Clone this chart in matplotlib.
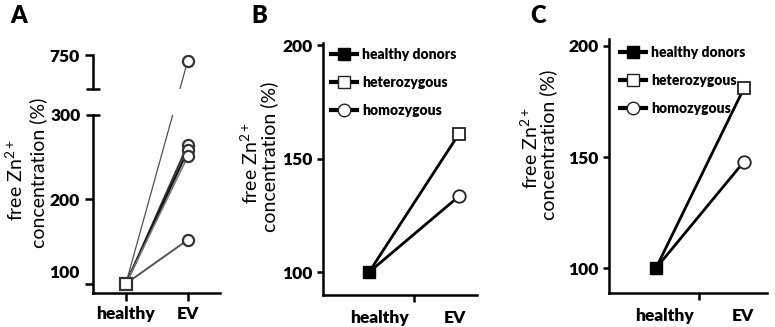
import numpy as np
import matplotlib
matplotlib.use("Agg")
import matplotlib.pyplot as plt
from matplotlib.lines import Line2D
from matplotlib.transforms import ScaledTranslation

plt.rcParams['font.family'] = ['Lato', 'DejaVu Sans']
plt.rcParams['mathtext.default'] = 'regular'

# ======= data =======
groups = ["healthy", "EV"]

# panel A: individual patients, healthy normalised to 100
a_healthy = [100, 100, 100, 100, 100]
a_ev      = [734, 265, 258, 251, 152]
a_colors  = ["#505050", "#333333", "#111111", "#777777", "#555555"]
a_widths  = [0.9, 1.3, 1.6, 1.2, 1.4]

# panels B and C: group means
series_names = ["healthy donors", "heterozygous", "homozygous"]
b_ev = {"heterozygous": 161, "homozygous": 133.5}
c_ev = {"heterozygous": 181, "homozygous": 148}
healthy_value = 100

ylab1 = r"free $\mathregular{Zn^{2+}}$"
ylab2 = "concentration (%)"

SPINE_W = 1.8
TICK_FS = 12.5
TICK_WT = "heavy"
YLAB_FS = 14

fig = plt.figure(figsize=(7.75, 3.27), dpi=100)
W, H = 775.0, 327.0


def px_axes(left, top, right, bottom):
    return fig.add_axes([left / W, 1 - bottom / H, (right - left) / W, (bottom - top) / H])


def style(ax):
    for s in ("top", "right"):
        ax.spines[s].set_visible(False)
    for s in ("left", "bottom"):
        ax.spines[s].set_linewidth(SPINE_W)
    ax.tick_params(which="both", width=SPINE_W, length=4, labelsize=TICK_FS)
    for lab in (ax.get_xticklabels() + ax.get_yticklabels()
                + ax.get_xticklabels(minor=True) + ax.get_yticklabels(minor=True)):
        lab.set_fontweight(TICK_WT)


def ylabel_pair(x1, y1, x2, y2):
    fig.text(x1 / W, 1 - y1 / H, ylab1, rotation=90, ha="center", va="center", fontsize=YLAB_FS)
    fig.text(x2 / W, 1 - y2 / H, ylab2, rotation=90, ha="center", va="center", fontsize=YLAB_FS)


def letter(x, y, s):
    fig.text(x / W, 1 - y / H, s, fontsize=17, fontweight="heavy", ha="left", va="center")


# ======= panel A (broken y axis) =======
# piecewise linear scale shared by both halves so the 750 line stays straight
LO_TOP, HI_BOT = 300.0, 652.0
GAP = 30.8            # size of the hidden gap in lower-axis units
K_UP = 0.4113         # compression of the upper part
xs_b = np.array([-1e4, LO_TOP, HI_BOT, 1e4])
fs_b = np.array([-1e4, LO_TOP, LO_TOP + GAP, LO_TOP + GAP + (1e4 - HI_BOT) * K_UP])


def fwd(y):
    return np.interp(y, xs_b, fs_b)


def inv(f):
    return np.interp(f, fs_b, xs_b)


axA = px_axes(93, 115, 220, 293)
axA_up = px_axes(93, 55, 220, 89)
for ax in (axA, axA_up):
    ax.set_yscale("function", functions=(fwd, inv))
    for h, e, c, lw in zip(a_healthy, a_ev, a_colors, a_widths):
        ax.plot([0, 1], [h, e], color=c, lw=lw, zorder=2)
        ax.plot([1], [e], ls="none", marker="o", ms=8, mfc="white", mec="#333333", mew=1.6, zorder=3)
    ax.plot([0], [a_healthy[0]], ls="none", marker="s", ms=9, mfc="white", mec="#333333", mew=1.6, zorder=4)
    ax.set_xlim(-0.53, 1.52)

axA.set_ylim(89, 300)
axA.set_yticks([100, 200])
axA.set_yticks([300], ["300"], minor=True)
axA.set_xticks([0, 1])
axA.set_xticklabels(groups)
style(axA)
axA.tick_params(axis="y", which="major", length=6)
axA.tick_params(axis="y", which="minor", direction="inout", length=10)
axA.tick_params(axis="x", length=6)
# the "100" label sits a little above its tick in the original
lab100 = axA.yaxis.get_major_ticks()[0].label1
lab100.set_transform(lab100.get_transform() + ScaledTranslation(0, 0.12, fig.dpi_scale_trans))

axA_up.set_ylim(652, 750)
axA_up.set_yticks([750])
axA_up.set_yticks([652], [""], minor=True)
axA_up.set_xticks([])
axA_up.spines["bottom"].set_visible(False)
style(axA_up)
axA_up.tick_params(axis="y", which="major", length=6)
axA_up.tick_params(axis="y", which="minor", direction="inout", length=10)

ylabel_pair(15, 180, 38, 173)
letter(10, 16, "A")


# ======= panels B and C =======
def group_panel(box, ylim, ev_vals, xlim, mid_tick, lab_pos, leg_anchor):
    ax = px_axes(*box)
    het = ev_vals["heterozygous"]
    hom = ev_vals["homozygous"]
    ax.plot([0, 1], [healthy_value, het], color="black", lw=2, zorder=2)
    ax.plot([0, 1], [healthy_value, hom], color="black", lw=2, zorder=2)
    ax.plot([1], [het], ls="none", marker="s", ms=9, mfc="white", mec="#222222", mew=1.3, zorder=3)
    ax.plot([1], [hom], ls="none", marker="o", ms=9, mfc="white", mec="#222222", mew=1.3, zorder=3)
    ax.plot([0], [healthy_value], ls="none", marker="s", ms=9, color="black", zorder=4)
    ax.set_xlim(*xlim)
    ax.set_ylim(*ylim)
    ax.set_yticks([100, 150, 200])
    ax.set_xticks(lab_pos)
    ax.set_xticklabels(groups)
    ax.set_xticks([mid_tick], minor=True)
    style(ax)
    ax.tick_params(axis="x", which="major", length=0, pad=11)
    ax.tick_params(axis="x", which="minor", length=5, width=SPINE_W)

    handles = [
        Line2D([], [], color="black", lw=3, marker="s", ms=9, mfc="black", mec="black"),
        Line2D([], [], color="black", lw=3, marker="s", ms=9, mfc="white", mec="#222222", mew=1.0),
        Line2D([], [], color="black", lw=3, marker="o", ms=9, mfc="white", mec="#222222", mew=1.0),
    ]
    ax.legend(handles, series_names, loc="upper left", bbox_to_anchor=leg_anchor,
              frameon=False, borderpad=0, borderaxespad=0, handlelength=1.87,
              handletextpad=0.36, labelspacing=1.1, numpoints=1,
              prop={"weight": "heavy", "size": 10})
    return ax


group_panel((323, 43, 477, 295), (90, 201), b_ev, (-0.51, 1.2), 0.5, [0.12, 0.96], (0.052, 0.982))
ylabel_pair(250, 163, 269, 157)
letter(251, 16, "B")

group_panel((609, 39, 767, 293), (89, 203), c_ev, (-0.53, 1.26), 0.49, [0.10, 0.99], (0.072, 0.974))
ylabel_pair(530, 148, 548, 145)
letter(530, 16, "C")

fig.savefig("out.png", dpi=100)
